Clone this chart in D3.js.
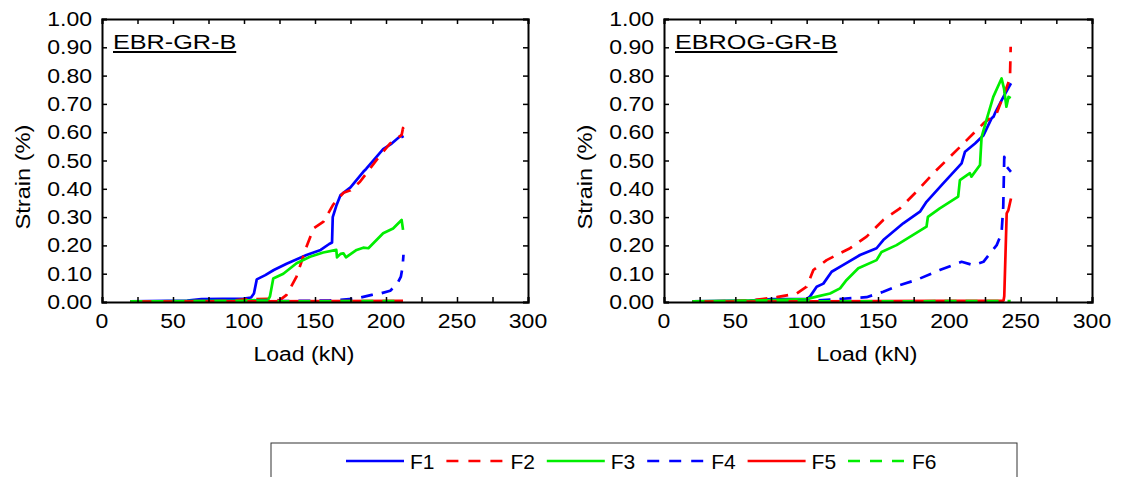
<!DOCTYPE html>
<html>
<head>
<meta charset="utf-8">
<script src="https://cdn.jsdelivr.net/npm/d3@7"></script>
<style>
  body { margin: 0; background: #fff; }
  svg text { font-family: "Liberation Sans", Arial, sans-serif; fill: #000; }
</style>
</head>
<body>
<svg id="chart" width="1121" height="477"></svg>
<script>
// series names, colours and dash styles
var seriesNames = ["F1", "F2", "F3", "F4", "F5", "F6"];
var seriesColors = ["#0000ff", "#ff0000", "#00ee00", "#0000ff", "#ff0000", "#00ee00"];
var seriesDashed = [false, true, false, true, false, true];

// axis ticks
var xTickValues = [0, 50, 100, 150, 200, 250, 300];
var yTickValues = [0, 0.1, 0.2, 0.3, 0.4, 0.5, 0.6, 0.7, 0.8, 0.9, 1.0];

// EBR-GR-B : [load kN, strain %]
var ebrF1 = [[20,0.002],[60,0.005],[70,0.01],[100,0.012],[105,0.016],[107,0.03],[109,0.08],[115,0.095],[121,0.113],[130,0.135],[144,0.166],[154,0.184],[160,0.205],[162,0.21],[162.5,0.3],[165,0.34],[168,0.378],[175,0.405],[184,0.46],[186,0.47],[198,0.54],[204,0.56],[211,0.59],[212,0.58]];
var ebrF2 = [[20,0.001],[90,0.004],[100,0.009],[118,0.011],[125,0.006],[130,0.025],[137,0.09],[144,0.195],[149,0.26],[156,0.284],[162.7,0.343],[170,0.386],[175,0.395],[181.7,0.425],[193.4,0.502],[202.8,0.56],[211,0.59],[212,0.615],[212.5,0.59]];
var ebrF3 = [[20,0.001],[100,0.005],[117,0.008],[118.3,0.02],[120.6,0.083],[127.7,0.1],[137,0.137],[146.5,0.16],[155.8,0.175],[165,0.184],[165.5,0.158],[168,0.17],[170,0.172],[171.8,0.158],[179.3,0.184],[184,0.192],[187.6,0.19],[198,0.243],[205,0.26],[211,0.29],[212,0.255]];
var ebrF4 = [[20,0.001],[120,0.003],[140,0.004],[160,0.005],[179,0.012],[190,0.025],[196,0.03],[203,0.04],[208,0.065],[210.5,0.09],[211.7,0.125],[212.3,0.167]];
var ebrF5 = [[20,0.001],[100,0.002],[212,0.004]];
var ebrF6 = [[20,0.002],[212,0.003]];

// EBROG-GR-B : [load kN, strain %]
var ebrogF1 = [[20,0.002],[60,0.005],[75,0.01],[100,0.01],[102.3,0.019],[107,0.054],[111.7,0.065],[117.5,0.107],[125.7,0.131],[137.4,0.166],[149,0.19],[153.7,0.219],[167.7,0.278],[179.4,0.319],[184,0.354],[195.7,0.419],[208.6,0.49],[211,0.531],[218,0.56],[223.8,0.588],[229.6,0.649],[231,0.655],[232,0.667],[237.9,0.725],[243.2,0.773]];
var ebrogF2 = [[20,0.001],[60,0.005],[79,0.017],[93,0.03],[100,0.054],[104.7,0.113],[114,0.148],[130.4,0.19],[142,0.231],[153.7,0.29],[165.4,0.331],[177,0.39],[188.8,0.455],[200.5,0.513],[212.2,0.572],[223.9,0.631],[233.2,0.667],[239,0.743],[242.5,0.79],[243,0.902]];
var ebrogF3 = [[20,0.002],[60,0.005],[100,0.01],[107,0.019],[116.4,0.03],[123.4,0.048],[128,0.078],[136.2,0.119],[149,0.148],[152.5,0.177],[163,0.201],[184,0.266],[185,0.301],[193.3,0.331],[206.2,0.372],[207.4,0.431],[214.4,0.455],[215.5,0.443],[221.5,0.484],[222.6,0.583],[226,0.643],[230.8,0.725],[236.6,0.79],[238.3,0.755],[240,0.69],[241.5,0.725],[243,0.72]];
var ebrogF4 = [[20,0.001],[100,0.003],[121,0.01],[142,0.017],[153.7,0.036],[165.4,0.06],[177,0.078],[193.3,0.113],[208.6,0.142],[216.8,0.13],[223.9,0.142],[233.2,0.201],[236.6,0.243],[237.8,0.337],[238.5,0.513],[240.2,0.478],[243.2,0.46]];
var ebrogF5 = [[20,0.001],[150,0.003],[238,0.005],[238.5,0.02],[240.2,0.313],[241.4,0.325],[243.2,0.366]];
var ebrogF6 = [[20,0.002],[243,0.003]];

var svg = d3.select("#chart");

// stretch text a bit wider like the original picture
function widen(sel, k){
    sel.each(function(){
        var w = this.getComputedTextLength();
        d3.select(this).attr("textLength", w*k).attr("lengthAdjust", "spacingAndGlyphs");
    });
}

function drawPanel(left, right, title, data){
    var top = 19, bottom = 302;
    var x = d3.scaleLinear().domain([0, 300]).range([left, right]);
    var y = d3.scaleLinear().domain([0, 1]).range([bottom, top]);
    var g = svg.append("g");

    // series lines
    var line = d3.line().x(function(d){ return x(d[0]); }).y(function(d){ return y(d[1]); });
    for (var i = 0; i < data.length; i++) {
        g.append("path")
         .attr("d", line(data[i]))
         .attr("fill", "none")
         .attr("stroke", seriesColors[i])
         .attr("stroke-width", 2.7)
         .attr("stroke-linejoin", "round")
         .attr("stroke-dasharray", seriesDashed[i] ? "12,9" : null);
    }

    // frame + inward ticks on all sides
    var axB = d3.axisBottom(x).tickValues(d3.range(0, 301, 25)).tickSize(-5).tickFormat("");
    var axT = d3.axisTop(x).tickValues(d3.range(0, 301, 25)).tickSize(-5).tickFormat("");
    var axL = d3.axisLeft(y).tickValues(yTickValues).tickSize(-5).tickFormat("");
    var axR = d3.axisRight(y).tickValues(yTickValues).tickSize(-5).tickFormat("");
    [[axB, "translate(0," + bottom + ")"], [axT, "translate(0," + top + ")"],
     [axL, "translate(" + left + ",0)"], [axR, "translate(" + right + ",0)"]].forEach(function(a){
        var ag = g.append("g").attr("transform", a[1]).call(a[0]);
        ag.select(".domain").attr("stroke", "#000").attr("stroke-width", 2);
        ag.selectAll(".tick line").attr("stroke", "#000").attr("stroke-width", 1.5);
    });

    // tick labels
    var yl = g.selectAll(".ylab").data(yTickValues).enter().append("text")
        .attr("x", left - 10)
        .attr("y", function(d){ return y(d) + 7; })
        .attr("text-anchor", "end")
        .style("font-size", "20px")
        .text(function(d){ return d.toFixed(2); });
    widen(yl, 1.15);

    var xl = g.selectAll(".xlab").data(xTickValues).enter().append("text")
        .attr("x", function(d){ return x(d); })
        .attr("y", 328)
        .attr("text-anchor", "middle")
        .style("font-size", "20px")
        .text(function(d){ return d; });
    widen(xl, 1.15);

    // axis titles
    var xt = g.append("text")
        .attr("x", (left + right)/2 - 11)
        .attr("y", 361)
        .attr("text-anchor", "middle")
        .style("font-size", "20px")
        .text("Load (kN)");
    widen(xt, 1.15);

    var yt = g.append("text")
        .attr("transform", "translate(" + (left - 72) + ",177) rotate(-90)")
        .attr("text-anchor", "middle")
        .style("font-size", "20px")
        .text("Strain (%)");
    widen(yt, 1.18);

    // panel name, underlined
    var tt = g.append("text")
        .attr("x", left + 11)
        .attr("y", 49)
        .style("font-size", "21px")
        .text(title);
    widen(tt, 1.2);
    var tw = tt.node().getBBox().width;
    g.append("line")
     .attr("x1", left + 11).attr("x2", left + 11 + tw)
     .attr("y1", 52).attr("y2", 52)
     .attr("stroke", "#000").attr("stroke-width", 2);
}

drawPanel(102, 528, "EBR-GR-B", [ebrF1, ebrF2, ebrF3, ebrF4, ebrF5, ebrF6]);
drawPanel(664, 1092, "EBROG-GR-B", [ebrogF1, ebrogF2, ebrogF3, ebrogF4, ebrogF5, ebrogF6]);

// legend
svg.append("rect")
   .attr("x", 271).attr("y", 443)
   .attr("width", 746).attr("height", 60)
   .attr("fill", "none").attr("stroke", "#333").attr("stroke-width", 1);

var lx = d3.scaleLinear().domain([0, 5]).range([346, 848]);
seriesNames.forEach(function(name, i){
    svg.append("line")
       .attr("x1", lx(i)).attr("x2", lx(i) + 58)
       .attr("y1", 461).attr("y2", 461)
       .attr("stroke", seriesColors[i])
       .attr("stroke-width", 2.7)
       .attr("stroke-dasharray", seriesDashed[i] ? "12,10" : null);
    svg.append("text")
       .attr("x", lx(i) + 64)
       .attr("y", 469)
       .style("font-size", "21px")
       .text(name);
});
</script>
</body>
</html>
